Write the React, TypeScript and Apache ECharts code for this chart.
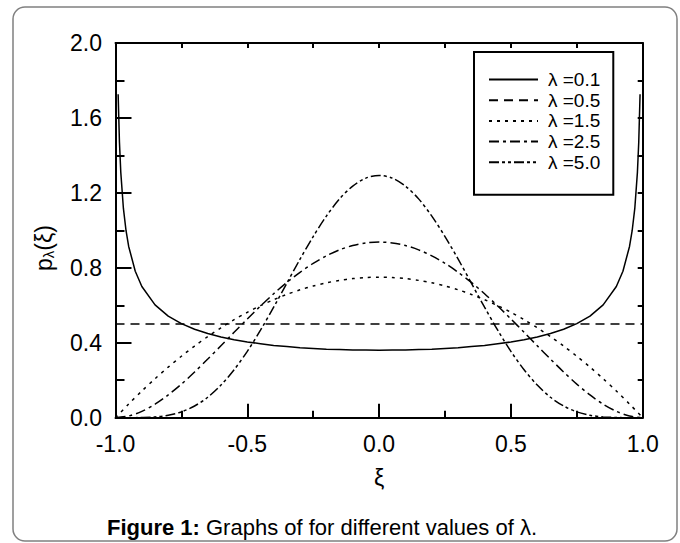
import React, { useEffect, useRef } from "react";
import * as echarts from "echarts";

// ξ grid (shared by λ = 1.5, 2.5, 5.0)
const XI = [
  -1, -0.95, -0.9, -0.85, -0.8, -0.75, -0.7, -0.65, -0.6, -0.55, -0.5, -0.45, -0.4, -0.35, -0.3, -0.25, -0.2, -0.15, -0.1, -0.05,
  0, 0.05, 0.1, 0.15, 0.2, 0.25, 0.3, 0.35, 0.4, 0.45, 0.5, 0.55, 0.6, 0.65, 0.7, 0.75, 0.8, 0.85, 0.9, 0.95, 1,
];

// λ = 0.1 (denser near the edges)
const XI_01 = [
  -0.99, -0.985, -0.98, -0.97, -0.96, -0.95, -0.925, -0.9, -0.85, -0.8, -0.75, -0.7, -0.65, -0.6, -0.55, -0.5, -0.45, -0.4, -0.35, -0.3, -0.25, -0.2, -0.15, -0.1, -0.05,
  0, 0.05, 0.1, 0.15, 0.2, 0.25, 0.3, 0.35, 0.4, 0.45, 0.5, 0.55, 0.6, 0.65, 0.7, 0.75, 0.8, 0.85, 0.9, 0.925, 0.95, 0.96, 0.97, 0.98, 0.985, 0.99,
];
const P_01 = [
  1.727, 1.47, 1.311, 1.117, 0.998, 0.914, 0.782, 0.7, 0.602, 0.542, 0.502, 0.472, 0.449, 0.431, 0.416, 0.404, 0.395, 0.386, 0.38, 0.374, 0.37, 0.366, 0.364, 0.362, 0.361,
  0.36, 0.361, 0.362, 0.364, 0.366, 0.37, 0.374, 0.38, 0.386, 0.395, 0.404, 0.416, 0.431, 0.449, 0.472, 0.502, 0.542, 0.602, 0.7, 0.782, 0.914, 0.998, 1.117, 1.311, 1.47, 1.727,
];

// λ = 0.5 (flat)
const XI_05 = [-1, 1];
const P_05 = [0.5, 0.5];

const P_15 = [
  0, 0.073, 0.1425, 0.208, 0.27, 0.328, 0.3825, 0.433, 0.48, 0.523, 0.5625, 0.598, 0.63, 0.658, 0.6825, 0.703, 0.72, 0.733, 0.7425, 0.748,
  0.75, 0.748, 0.7425, 0.733, 0.72, 0.703, 0.6825, 0.658, 0.63, 0.598, 0.5625, 0.523, 0.48, 0.433, 0.3825, 0.328, 0.27, 0.208, 0.1425, 0.073, 0,
];
const P_25 = [
  0, 0.009, 0.034, 0.072, 0.1215, 0.179, 0.244, 0.313, 0.384, 0.456, 0.527, 0.596, 0.6615, 0.722, 0.776, 0.824, 0.864, 0.896, 0.919, 0.933,
  0.9375, 0.933, 0.919, 0.896, 0.864, 0.824, 0.776, 0.722, 0.6615, 0.596, 0.527, 0.456, 0.384, 0.313, 0.244, 0.179, 0.1215, 0.072, 0.034, 0.009, 0,
];
const P_50 = [
  0, 0, 0.001, 0.004, 0.013, 0.031, 0.0625, 0.109, 0.174, 0.256, 0.354, 0.467, 0.59, 0.718, 0.846, 0.967, 1.076, 1.168, 1.236, 1.279,
  1.293, 1.279, 1.236, 1.168, 1.076, 0.967, 0.846, 0.718, 0.59, 0.467, 0.354, 0.256, 0.174, 0.109, 0.0625, 0.031, 0.013, 0.004, 0.001, 0, 0,
];

const SERIES_NAMES = ["λ =0.1", "λ =0.5", "λ =1.5", "λ =2.5", "λ =5.0"];
const X_TICKS = [-1.0, -0.5, 0.0, 0.5, 1.0];
const Y_TICKS = [0.0, 0.4, 0.8, 1.2, 1.6, 2.0];
const CAPTION_BOLD = "Figure 1:";
const CAPTION_REST = " Graphs of for different values of λ.";

const FONT = "'Liberation Sans', Arial, Helvetica, sans-serif";

const pairs = (xs: number[], ys: number[]) => xs.map((x, i) => [x, ys[i]]);

export default function App() {
  const ref = useRef<HTMLDivElement>(null);
  useEffect(() => {
    if (!ref.current) return;
    const chart = echarts.init(ref.current, null, { renderer: "svg" });
    const dashes: (string | number[])[] = ["solid", [9, 6], [3, 5], [10, 4, 3, 4], [10, 3, 3, 3, 3, 3]];
    const dataSets = [
      pairs(XI_01, P_01),
      pairs(XI_05, P_05),
      pairs(XI, P_15),
      pairs(XI, P_25),
      pairs(XI, P_50),
    ];
    const axisLine = { show: true, onZero: false, lineStyle: { color: "#000", width: 2 } };
    chart.setOption({
      animation: false,
      backgroundColor: "#fff",
      textStyle: { fontFamily: FONT, color: "#000" },
      grid: { left: 115.5, right: 37.3, top: 43, bottom: 125.3, containLabel: false },
      legend: {
        orient: "vertical",
        left: 474,
        top: 52,
        padding: [18, 13, 23, 14],
        borderColor: "#000",
        borderWidth: 2,
        backgroundColor: "#fff",
        itemWidth: 49,
        itemHeight: 14,
        itemGap: 1.7,
        itemStyle: { opacity: 0 },
        data: SERIES_NAMES,
        textStyle: { fontFamily: FONT, fontSize: 19, color: "#000", padding: [0, 0, 0, 5] },
      },
      xAxis: [
        {
          type: "value",
          min: X_TICKS[0],
          max: X_TICKS[X_TICKS.length - 1],
          interval: 0.5,
          position: "bottom",
          name: "ξ",
          nameLocation: "middle",
          nameGap: 49,
          nameTextStyle: { fontFamily: FONT, fontSize: 23, color: "#000" },
          axisLine,
          axisTick: { show: true, inside: true, length: 14, lineStyle: { color: "#000", width: 2 } },
          minorTick: { show: true, splitNumber: 2, length: 7, lineStyle: { color: "#000", width: 2 } },
          axisLabel: {
            fontFamily: FONT,
            fontSize: 23,
            color: "#000",
            margin: 15,
            formatter: (v: number) => v.toFixed(1),
          },
          splitLine: { show: false },
        },
        {
          type: "value",
          min: -1,
          max: 1,
          interval: 0.25,
          position: "top",
          axisLine,
          axisTick: { show: true, inside: true, length: 5, lineStyle: { color: "#000", width: 2 } },
          axisLabel: { show: false },
          splitLine: { show: false },
        },
      ],
      yAxis: [
        {
          type: "value",
          min: Y_TICKS[0],
          max: Y_TICKS[Y_TICKS.length - 1],
          interval: 0.4,
          position: "left",
          axisLine,
          axisTick: { show: true, inside: true, length: 16, lineStyle: { color: "#000", width: 2 } },
          minorTick: { show: true, splitNumber: 2, length: 9, lineStyle: { color: "#000", width: 2 } },
          axisLabel: {
            fontFamily: FONT,
            fontSize: 23,
            color: "#000",
            margin: 13.5,
            formatter: (v: number) => v.toFixed(1),
          },
          splitLine: { show: false },
        },
        {
          type: "value",
          min: 0,
          max: 2,
          interval: 0.2,
          position: "right",
          axisLine,
          axisTick: { show: true, inside: true, length: 5, lineStyle: { color: "#000", width: 2 } },
          axisLabel: { show: false },
          splitLine: { show: false },
        },
      ],
      series: SERIES_NAMES.map((name, i) => ({
        name,
        type: "line",
        xAxisIndex: 0,
        yAxisIndex: 0,
        data: dataSets[i],
        symbol: "none",
        showSymbol: false,
        smooth: i === 0 || i === 1 ? false : 0.3,
        lineStyle: { color: "#000", width: 1.5, type: dashes[i] },
        itemStyle: { color: "#000" },
      })),
      graphic: [
        {
          type: "rect",
          silent: true,
          z: -10,
          shape: { x: 13, y: 7, width: 664, height: 534, r: 12 },
          style: { fill: "none", stroke: "#808080", lineWidth: 1.5 },
        },
        {
          type: "text",
          x: 44,
          y: 248,
          rotation: Math.PI / 2,
          style: {
            text: "{p|p}{s|λ}{p|(ξ)}",
            align: "center",
            verticalAlign: "middle",
            rich: {
              p: { fontFamily: FONT, fontSize: 23, fill: "#000" },
              s: { fontFamily: FONT, fontSize: 15, fill: "#000", padding: [9, 0, 0, 0] },
            },
          },
        },
        {
          type: "text",
          left: 107,
          top: 516,
          style: {
            text: `{b|${CAPTION_BOLD}}{r|${CAPTION_REST}}`,
            rich: {
              b: { fontFamily: FONT, fontSize: 22, fontWeight: "bold", fill: "#000" },
              r: { fontFamily: FONT, fontSize: 22, fill: "#000" },
            },
          },
        },
      ],
    });
    return () => chart.dispose();
  }, []);
  return (
    <div
      ref={ref}
      style={{ position: "fixed", left: 0, top: 0, width: 680, height: 543, background: "#fff" }}
    />
  );
}
